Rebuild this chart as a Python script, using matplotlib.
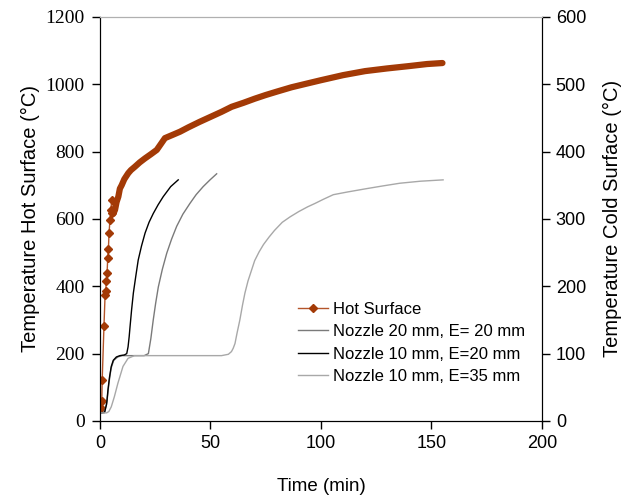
import numpy as np
import matplotlib.pyplot as plt

# Hot surface temperature (left axis)
hot_t = [0.3, 0.8, 1.0, 1.8, 2.3, 2.6, 2.9, 3.2, 3.5, 3.8, 4.1, 4.5, 4.9, 5.3,
         5.6, 6.0, 6.8, 7.5, 8.3, 9.0, 9.8, 11.0, 12.8, 14.0, 15.8, 18.0, 20.4,
         23.0, 25.7, 27.5, 29.4, 33.0, 36.2, 40.0, 45.0, 50.0, 55.0, 59.6, 65.0,
         70.0, 75.0, 80.0, 86.7, 93.0, 100.0, 110.0, 120.0, 130.0, 140.0, 148.0, 155.0]
hot_T = [39, 60, 122, 283, 374, 387, 416, 440, 484, 511, 558, 597, 627, 656,
         618, 615, 627, 650, 666, 690, 700, 718, 736, 745, 755, 768, 780,
         792, 805, 822, 840, 850, 859, 872, 888, 903, 918, 933, 945,
         957, 968, 978, 991, 1001, 1012, 1027, 1039, 1047, 1054, 1060, 1063]

# Cold surface temperatures (right axis)
n20e20_t = [0.5, 2.0, 3.2, 4.0, 5.0, 6.2, 8.0, 10.0, 15.0, 20.0, 21.9, 23.0,
            24.1, 25.2, 26.4, 28.2, 30.2, 32.4, 34.7, 37.5, 40.7, 43.5, 46.7,
            49.8, 52.8]
n20e20_T = [12, 12, 30, 55, 78, 90, 95, 97, 97, 97, 100, 122,
            150, 175, 199, 225, 249, 270, 289, 307, 323, 336, 348,
            358, 367]

n10e20_t = [0.5, 2.1, 3.0, 3.6, 4.3, 5.1, 6.0, 7.4, 9.0, 11.0, 12.1, 12.7,
            13.2, 13.6, 14.3, 15.1, 16.2, 17.3, 18.8, 20.4, 22.2, 24.1, 26.3,
            28.6, 32.0, 35.4]
n10e20_T = [12, 13, 25, 46, 65, 81, 90, 95, 97, 98, 100, 110,
            125, 140, 165, 190, 215, 239, 260, 279, 295, 308, 321,
            333, 348, 358]

n10e35_t = [0.5, 3.0, 4.0, 5.1, 6.5, 8.1, 10.4, 12.7, 15.6, 25.0, 40.0, 55.0,
            58.1, 59.5, 60.3, 61.1, 62.0, 63.3, 64.5, 65.6, 67.0, 68.6, 70.0,
            72.0, 74.0, 76.5, 79.0, 82.5, 86.0, 90.0, 94.0, 97.3, 101.0, 105.6,
            112.0, 120.7, 128.0, 135.7, 145.0, 155.3]
n10e35_T = [12, 12, 14, 21, 36, 56, 81, 93, 97, 97, 97, 97,
            99, 103, 108, 115, 130, 150, 172, 190, 208, 224, 238,
            251, 262, 273, 283, 295, 303, 311, 318, 323, 329, 336,
            340, 345, 349, 353, 356, 358]

x_ticks = [0, 50, 100, 150, 200]
hot_ticks = [0, 200, 400, 600, 800, 1000, 1200]
cold_ticks = [0, 100, 200, 300, 400, 500, 600]

plt.rcParams['font.family'] = ['Liberation Sans', 'DejaVu Sans']

fig = plt.figure(figsize=(6.25, 4.97), dpi=100)
ax = fig.add_axes([0.16, 0.153, 0.707, 0.813])
ax2 = ax.twinx()

hot_color = '#a33a06'
l_hot, = ax.plot(hot_t, hot_T, color='#b4552a', lw=1, marker='D', ms=4.5,
                 mfc=hot_color, mec=hot_color, markevery=list(range(15)),
                 label='Hot Surface')
# dense part of the series shows up as a thick band
ax.plot(hot_t[14:], hot_T[14:], color=hot_color, lw=4.5, solid_capstyle='round')

l1, = ax2.plot(n20e20_t, n20e20_T, color='#7a7a7a', lw=1,
               label='Nozzle 20 mm, E= 20 mm')
l2, = ax2.plot(n10e20_t, n10e20_T, color='black', lw=1,
               label='Nozzle 10 mm, E=20 mm')
l3, = ax2.plot(n10e35_t, n10e35_T, color='#a8a8a8', lw=1,
               label='Nozzle 10 mm, E=35 mm')

ax.set_xlim(0, 200)
ax.set_ylim(0, 1200)
ax2.set_ylim(0, 600)
ax.set_xticks(x_ticks)
ax.set_xticklabels([str(v) for v in x_ticks], fontsize=13)
ax.set_yticks(hot_ticks)
ax.set_yticklabels([str(v) for v in hot_ticks], fontsize=14,
                   fontfamily='Liberation Serif')
ax2.set_yticks(cold_ticks)
ax2.set_yticklabels([str(v) for v in cold_ticks], fontsize=13)

ax.tick_params(axis='y', length=6, width=1, direction='out', pad=5)
ax.tick_params(axis='x', length=6, width=1, direction='out', pad=4)
ax2.tick_params(axis='y', length=6, width=1, direction='out', pad=4)

ax.set_xlabel('Time (min)', fontsize=13.5, labelpad=19)
ax.set_ylabel('Temperature Hot Surface (\u00b0C)', fontsize=14.5, labelpad=4)
ax2.set_ylabel('Temperature Cold Surface (\u00b0C)', fontsize=14.5, labelpad=12)

for a in (ax, ax2):
    a.spines['top'].set_color('#b0b0b0')
    a.spines['left'].set_color('black')
    a.spines['right'].set_color('black')
    a.spines['bottom'].set_color('black')

fig.legend(handles=[l_hot, l1, l2, l3], loc='upper left',
           bbox_to_anchor=(0.463, 0.41), frameon=False, fontsize=12,
           handlelength=1.8, handletextpad=0.3, labelspacing=0.45, borderpad=0)

fig.savefig('out.png', dpi=100)
